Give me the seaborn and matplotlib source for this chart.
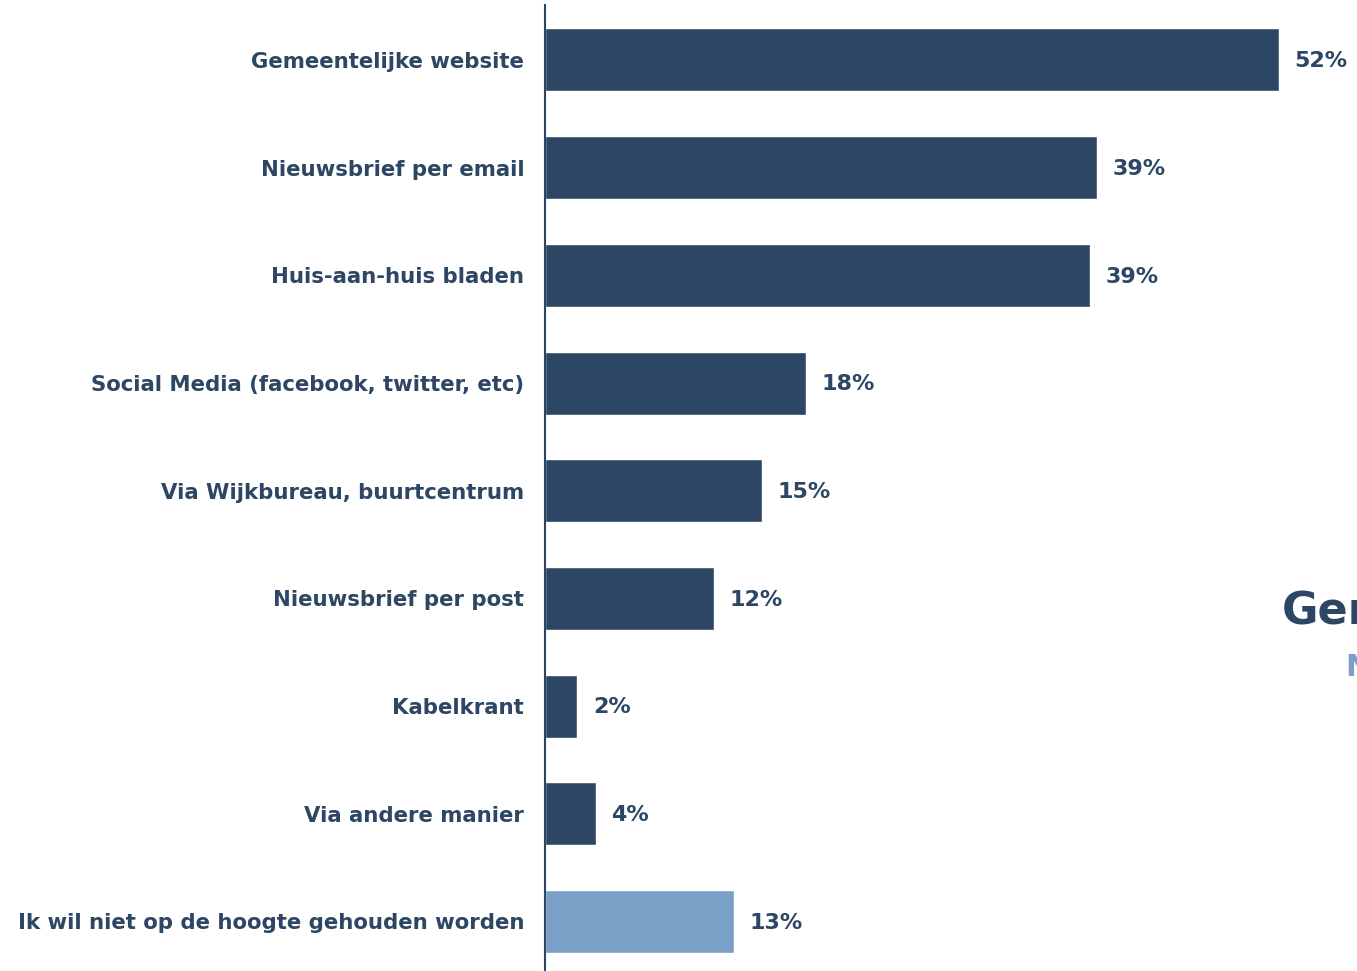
import matplotlib
matplotlib.use("Agg")
import matplotlib.pyplot as plt
import seaborn as sns
import pandas as pd

# Channels through which residents want to be kept informed (share of respondents, %)
categories = [
    "Gemeentelijke website",
    "Nieuwsbrief per email",
    "Huis-aan-huis bladen",
    "Social Media (facebook, twitter, etc)",
    "Via Wijkbureau, buurtcentrum",
    "Nieuwsbrief per post",
    "Kabelkrant",
    "Via andere manier",
    "Ik wil niet op de hoogte gehouden worden",
]
values = [52.0, 39.1, 38.6, 18.5, 15.4, 12.0, 2.3, 3.6, 13.4]
groups = ["kanaal"] * 8 + ["geen"]

NAVY = "#2d4663"
LIGHT = "#7aa0c8"
FONT = "DejaVu Sans"

sns.set_theme(style="white")
plt.rcParams["font.family"] = [FONT]
plt.rcParams["font.sans-serif"] = [FONT]

df = pd.DataFrame({"kanaal": categories, "pct": values, "groep": groups})

fig = plt.figure(figsize=(13.57, 9.71), dpi=100)
ax = fig.add_axes([545 / 1357, 0, 1 - 545 / 1357, 1 - 5 / 971])

sns.barplot(
    data=df, x="pct", y="kanaal", hue="groep", orient="h",
    palette={"kanaal": NAVY, "geen": LIGHT}, dodge=False,
    width=0.585, legend=False, ax=ax, saturation=1,
)

ax.set_xlim(0, 57.5)
ax.set_ylim(8.46, -0.51)
ax.set_xlabel("")
ax.set_ylabel("")
ax.set_xticks([])
ax.tick_params(axis="y", length=0, pad=15)
for lbl in ax.get_yticklabels():
    lbl.set_family(FONT)
    lbl.set_fontweight("bold")
    lbl.set_fontsize(15.3)
    lbl.set_color(NAVY)

for s in ["top", "right", "bottom"]:
    ax.spines[s].set_visible(False)
ax.spines["left"].set_color(NAVY)
ax.spines["left"].set_linewidth(1.5)

for i, v in enumerate(values):
    ax.annotate(f"{round(v):d}%", xy=(v, i), xytext=(11, -1), textcoords="offset points",
                va="center", ha="left", fontsize=16, fontweight="bold", color=NAVY,
                family=FONT, annotation_clip=False)

# Title block partially running off the right edge
fig.text(1282 / 1357, 1 - 612 / 971, "Gemeente", fontsize=32, fontweight="heavy",
         family=FONT, color=NAVY, va="center", ha="left")
fig.text(1345 / 1357, 1 - 667 / 971, "Nieuws", fontsize=22, fontweight="heavy",
         family=FONT, color=LIGHT, va="center", ha="left")

fig.savefig("out.png", dpi=100)
